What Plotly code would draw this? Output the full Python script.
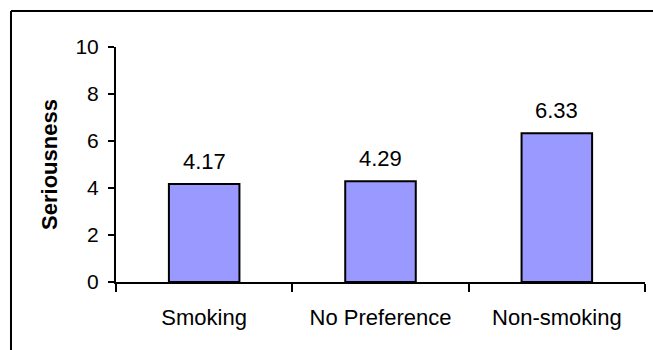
import plotly.graph_objects as go

# Mean seriousness rating by seating preference
categories = ["Smoking", "No Preference", "Non-smoking"]
seriousness = [4.17, 4.29, 6.33]
y_ticks = [0, 2, 4, 6, 8, 10]

FONT = "Liberation Sans, Arial, sans-serif"

fig = go.Figure(
    go.Bar(
        x=categories,
        y=seriousness,
        width=0.4,
        marker=dict(color="#9999FF", line=dict(color="black", width=2)),
        hoverinfo="skip",
    )
)

# value labels above each bar
for cat, val in zip(categories, seriousness):
    fig.add_annotation(
        x=cat, y=val, text=f"{val:.2f}", showarrow=False,
        xref="x", yref="y", yanchor="bottom", yshift=8,
        font=dict(family=FONT, size=22, color="black"),
    )

# chart-area frame (left and top edges fall inside the canvas)
frame = dict(type="line", xref="paper", yref="paper",
             line=dict(color="black", width=2))
fig.add_shape(**frame, x0=-0.1985, x1=-0.1985, y0=-0.5, y1=1.153)
fig.add_shape(**frame, x0=-0.1985, x1=1.2, y0=1.153, y1=1.153)

fig.update_layout(
    width=653, height=350,
    margin=dict(l=116, r=8, t=47, b=68),
    paper_bgcolor="white", plot_bgcolor="white",
    font=dict(family=FONT, size=22, color="black"),
    showlegend=False,
    bargap=0.6,
)
fig.update_xaxes(
    type="category", range=[-0.5, 2.5],
    showline=True, linecolor="black", linewidth=2,
    ticks="outside", tickson="boundaries", ticklen=8, tickwidth=2, tickcolor="black",
    showgrid=False, zeroline=False,
    tickfont=dict(family=FONT, size=22),
    ticklabelstandoff=15,
)
fig.update_yaxes(
    range=[0, 10], tickvals=y_ticks,
    showline=True, linecolor="black", linewidth=2,
    ticks="outside", ticklen=6, tickwidth=2, tickcolor="black",
    showgrid=False, zeroline=False,
    tickfont=dict(family=FONT, size=21),
    ticklabelstandoff=5,
    title=dict(text="<b>Seriousness</b>", font=dict(family=FONT, size=22), standoff=12),
)

fig.write_html("out.html")
